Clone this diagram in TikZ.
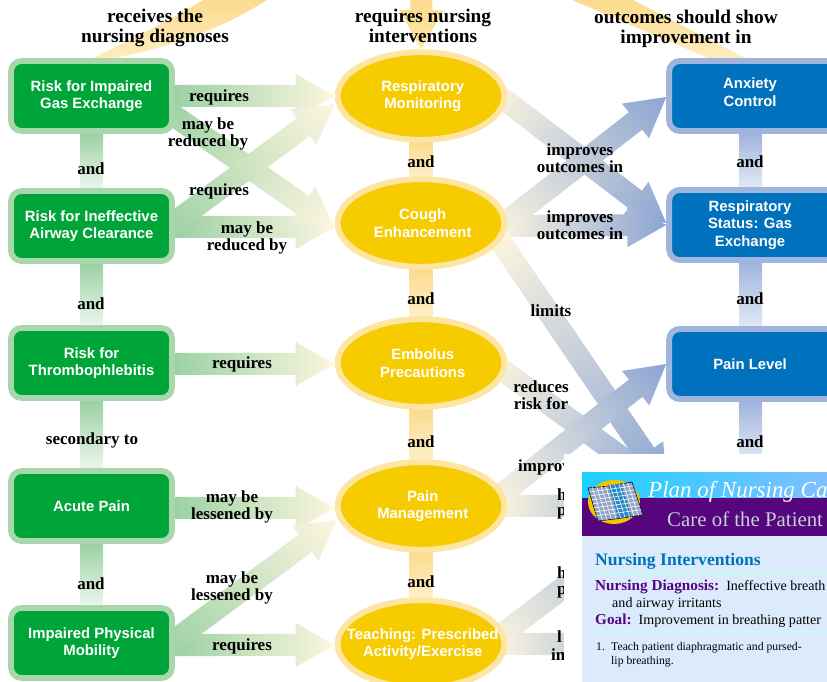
\documentclass[tikz,border=0pt]{standalone}
\usepackage{fontspec}
\setmainfont{Liberation Serif}
\setsansfont{Liberation Sans}
\usetikzlibrary{calc,shapes.geometric,backgrounds}
\definecolor{greenfill}{HTML}{00A539}
\definecolor{greenrim}{HTML}{A8D7AC}
\definecolor{greentail}{HTML}{9CD1A4}
\definecolor{bluefill}{HTML}{0071BC}
\definecolor{bluerim}{HTML}{A0B5DD}
\definecolor{bluetip}{HTML}{8CA5D3}
\definecolor{yellowfill}{HTML}{F6CB00}
\definecolor{yellowrim}{HTML}{FDE5A3}
\definecolor{yellowband}{HTML}{FBDB8F}
\definecolor{cream}{HTML}{FDF6E0}
\definecolor{purplebar}{HTML}{56057F}
\definecolor{panelblue}{HTML}{DCEBFB}
\tikzset{
        diagbox/.style={draw=greenrim,fill=greenfill,line width=5pt,rounded corners=9pt,
            minimum width=4.83cm,minimum height=2.1cm,inner sep=0pt,text=white,align=center,
            font=\sffamily\bfseries\fontsize{12.7}{15}\selectfont},
        outcomebox/.style={diagbox,draw=bluerim,fill=bluefill,minimum width=5.03cm},
        oval/.style={ellipse,draw=yellowrim,fill=yellowfill,line width=5pt,
            minimum width=5cm,minimum height=2.63cm,inner sep=0pt},
        ovaltext/.style={text=white,align=center,inner sep=0pt,
            font=\sffamily\bfseries\fontsize{12.7}{15}\selectfont},
        word/.style={align=center,inner sep=0pt,yshift=-1pt,font=\bfseries\fontsize{14.5}{14.8}\selectfont},
        headword/.style={align=center,inner sep=0pt,font=\bfseries\fontsize{16.5}{17}\selectfont},
        paneltext/.style={anchor=base west,inner sep=0pt,font=\fontsize{12}{12}\selectfont},
        panelsmall/.style={anchor=base west,inner sep=0pt,font=\fontsize{10}{10}\selectfont}
}
% one wide arrow with a colour run along it
\newcommand{\fatarrow}[4]{
        \path let \p1=($(#2)-(#1)$), \p2=(#1), \n1={atan2(\y1,\x1)}, \n2={veclen(\x1,\y1)} in
            \pgfextra{\xdef\fatangle{\n1}\xdef\fatlen{\n2}\xdef\fatx{\x2}\xdef\faty{\y2}};
        \begin{scope}[transform canvas={shift={(\fatx,\faty)},rotate=\fatangle}]
            \shade[left color=#3,right color=#4] (0pt,-0.33cm) -- ({\fatlen-1.17cm},-0.33cm)
                -- ({\fatlen-1.17cm},-0.66cm) -- (\fatlen,0pt) -- ({\fatlen-1.17cm},0.66cm)
                -- ({\fatlen-1.17cm},0.33cm) -- (0pt,0.33cm) -- cycle;
        \end{scope}
}
\begin{document}
\begin{tikzpicture}[x=0.03cm,y=-0.03cm]
        \useasboundingbox (0,0) rectangle (827,682);

        \node[diagbox] (gas) at (91.5,96) {Risk for Impaired\\Gas Exchange};
        \node[diagbox] (airway) at (91.5,226) {Risk for Ineffective\\Airway Clearance};
        \node[diagbox] (thrombo) at (91.5,363) {Risk for\\Thrombophlebitis};
        \node[diagbox] (acute) at (91.5,506) {Acute Pain};
        \node[diagbox] (mobility) at (91.5,643) {Impaired Physical\\Mobility};
        \node[oval,label={[ovaltext,xshift=1.5pt]center:{Respiratory\\Monitoring}}] (resp) at (421,96) {};
        \node[oval,label={[ovaltext,xshift=1.5pt]center:{Cough\\Enhancement}}] (cough) at (421,223) {};
        \node[oval,label={[ovaltext,xshift=1.5pt]center:{Embolus\\Precautions}}] (embolus) at (421,363) {};
        \node[oval,label={[ovaltext,xshift=1.5pt]center:{Pain\\Management}}] (painman) at (421,506) {};
        \node[oval,label={[ovaltext,xshift=1.5pt]center:{Teaching: Prescribed\\Activity/Exercise}}] (teach) at (421,644) {};
        \node[outcomebox,label={[ovaltext,xshift=-2.5pt,yshift=3.5pt]center:{Anxiety\\Control}}] (anxiety) at (753,96) {};
        \node[outcomebox,label={[ovaltext,xshift=-2.5pt]center:{Respiratory\\Status: Gas\\Exchange}}] (status) at (753,225) {};
        \node[outcomebox,label={[ovaltext,xshift=-2.5pt]center:{Pain Level}}] (painlevel) at (753,364) {};
        \coordinate (topin) at (421.5,0);
        \coordinate (lost1) at (667,486);
        \coordinate (lost2) at (666,490);
        \coordinate (lost3) at (666,506);
        \coordinate (lost4) at (666,510);
        \coordinate (lost5) at (666,644);

        \begin{scope}[on background layer]
        % bands from the top edge
        \shade[top color=yellowband,bottom color=yellowrim!70] (93,58) .. controls (130,40) and (180,15) .. (203,0)
            -- (267,0) .. controls (220,30) and (170,47) .. (115,58) -- cycle;
        \shade[top color=yellowband,bottom color=yellowrim!70] (572,0) -- (633,0) -- (745,58) -- (708,58) -- cycle;
        \fatarrow{topin}{resp.north}{yellowband}{yellowrim}

        % links down each column
        \foreach \a/\b in {gas/airway,airway/thrombo,thrombo/acute,acute/mobility}
            \shade[top color=greentail,bottom color=greentail!20] ($(\a.south)+(-11.5,0)$) rectangle ($(\b.north)+(11.5,0)$);
        \foreach \a/\b in {resp/cough,cough/embolus,embolus/painman,painman/teach}
            \shade[top color=yellowband,bottom color=yellowrim!60] ($(\a.south)+(-11.5,0)$) rectangle ($(\b.north)+(11.5,0)$);
        \foreach \a/\b in {anxiety/status,status/painlevel}
            \shade[top color=bluerim,bottom color=bluerim!30] ($(\a.south)+(-14,0)$) rectangle ($(\b.north)+(9,0)$);
        \shade[top color=bluerim,bottom color=bluerim!30] ($(painlevel.south)+(-14,0)$) rectangle (762,460);

        % arrows left of the ovals
        \fatarrow{gas.east}{resp.west}{greentail}{cream}
        \fatarrow{$(thrombo.east)+(0,1)$}{$(embolus.west)+(0,1)$}{greentail}{cream}
        \fatarrow{$(airway.east)+(0,1)$}{$(cough.west)+(0,4)$}{greentail}{cream}
        \fatarrow{$(acute.east)+(0,2)$}{$(painman.west)+(0,2)$}{greentail}{cream}
        \fatarrow{$(mobility.east)+(0,2)$}{$(teach.west)+(0,1)$}{greentail}{cream}
        \fatarrow{$(gas.east)+(-15,10)$}{$(cough.west)+(0,4)$}{greentail}{cream}
        \fatarrow{$(airway.east)+(-15,7)$}{$(resp.west)+(0,8)$}{greentail}{cream}
        \fatarrow{$(mobility.east)+(-15,8)$}{$(painman.west)+(2,14)$}{greentail}{cream}

        % arrows right of the ovals
        \fatarrow{$(resp.east)+(-17,-7)$}{$(status.west)+(0,-2)$}{cream}{bluetip}
        \fatarrow{$(cough.east)+(-12,3)$}{status.west}{cream}{bluetip}
        \fatarrow{$(cough.east)+(-17,11)$}{$(anxiety.west)+(0,1)$}{cream}{bluetip}
        \fatarrow{$(cough.east)+(-12,11)$}{lost1}{cream}{bluetip}
        \fatarrow{$(embolus.east)+(-17,-2)$}{lost2}{cream}{bluetip}
        \fatarrow{$(painman.east)+(-17,-3)$}{painlevel.west}{cream}{bluetip}
        \fatarrow{$(painman.east)+(-12,0)$}{lost3}{cream}{bluetip}
        \fatarrow{$(teach.east)+(-17,-1)$}{lost4}{cream}{bluetip}
        \fatarrow{$(teach.east)+(-12,0)$}{lost5}{cream}{bluetip}
        \end{scope}

        % words
        \node[headword] (hdiag) at (155,28) {receives the\\nursing diagnoses};
        \node[headword] (hint) at (423,25.5) {requires nursing\\interventions};
        \node[headword] (hout) at (686,28.5) {outcomes should show\\improvement in};
        \node[word] (w1) at (219,96) {requires};
        \node[word] (w2) at (208,133) {may be\\reduced by};
        \node[word] (w3) at (219,190) {requires};
        \node[word] (w4) at (247,237) {may be\\reduced by};
        \node[word] (w5) at (242,363) {requires};
        \node[word] (w6) at (232,506) {may be\\lessened by};
        \node[word] (w7) at (232,587) {may be\\lessened by};
        \node[word] (w8) at (242,645) {requires};
        \node[word] (w9) at (92,439) {secondary to};
        \foreach \x/\y in {91/168,91/303,91/583,421/161,421/298,421/441,421/581,750/161,750/298,750/441}
            \node[word] at (\x,\y) {and};
        \node[word] (w10) at (580,157) {improves\\outcomes in};
        \node[word] (w11) at (580,224) {improves\\outcomes in};
        \node[word] (w12) at (551,310) {limits};
        \node[word] (w13) at (541,394) {reduces\\risk for};
        \node[word,anchor=west] (w14) at (518,466) {improv};
        \node[word,anchor=west] (w15) at (557,493) {h};
        \node[word,anchor=west] (w16) at (557,512) {p};
        \node[word,anchor=west] (w17) at (557,571) {h};
        \node[word,anchor=west] (w18) at (557,591) {p};
        \node[word,anchor=west] (w19) at (557,635) {l};
        \node[word,anchor=west] (w20) at (551,653) {in};

        % the page lying over the corner
        \fill[white] (564,454) rectangle (827,682);
        \fill[panelblue] (582,536) rectangle (827,682);
        \shade[left color=cyan!80!blue!90,right color=cyan!50!blue!50] (582,473) rectangle (827,498);
        \fill[purplebar] (582,498) rectangle (827,536);
        \fill[yellowfill!90!orange] (614,502) ellipse (26 and 22);
        \coordinate (ma) at (588,488);
        \coordinate (mb) at (632,482);
        \coordinate (mc) at (643,515);
        \coordinate (md) at (598,521);
        \fill[bluerim!90!black,draw=black,line width=0.5pt] (ma) -- (609,486) -- (mb) -- (mc) -- (615,519) -- (md) -- cycle;
        \fill[bluefill!85] ($(ma)!0.45!(mb)$) -- ($(ma)!0.75!(mb)$) -- ($(md)!0.75!(mc)$) -- ($(md)!0.45!(mc)$) -- cycle;
        \foreach \t in {0.1,0.2,...,0.95}
            \draw[white,line width=0.5pt] ($(ma)!\t!(mb)$) -- ($(md)!\t!(mc)$);
        \foreach \t in {0.12,0.24,...,0.95}
            \draw[white,line width=0.5pt] ($(ma)!\t!(md)$) -- ($(mb)!\t!(mc)$);
        \node[anchor=base west,inner sep=0pt,text=white,font=\itshape\fontsize{19.6}{19}\selectfont] (ptitle) at (648,498) {Plan of Nursing Ca};
        \node[anchor=base west,inner sep=0pt,text=cyan!20!gray!45,font=\fontsize{17.8}{18}\selectfont] (psub) at (667,527) {Care of the Patient};
        \node[anchor=base west,inner sep=0pt,text=bluefill,font=\bfseries\fontsize{15}{15}\selectfont] (phead) at (595,566) {Nursing Interventions};
        \draw[green!30!cyan!25,line width=1.6pt] (595,573) -- (827,573);
        \node[paneltext] (pdiag) at (595,591)
            {\textcolor{purplebar}{\bfseries\fontsize{13}{13}\selectfont Nursing Diagnosis:}\ \ Ineffective breath};
        \node[paneltext] (pair) at (612,608) {and airway irritants};
        \node[paneltext] (pgoal) at (595,625)
            {\textcolor{purplebar}{\bfseries\fontsize{13}{13}\selectfont Goal:}\ \ Improvement in breathing patter};
        \draw[green!30!cyan!25,line width=1.6pt] (595,632) -- (827,632);
        \node[panelsmall] (pone) at (596,651) {1.};
        \node[panelsmall] (pteach) at (611,651) {Teach patient diaphragmatic and pursed-};
        \node[panelsmall] (plip) at (611,665) {lip breathing.};
\end{tikzpicture}
\end{document}
